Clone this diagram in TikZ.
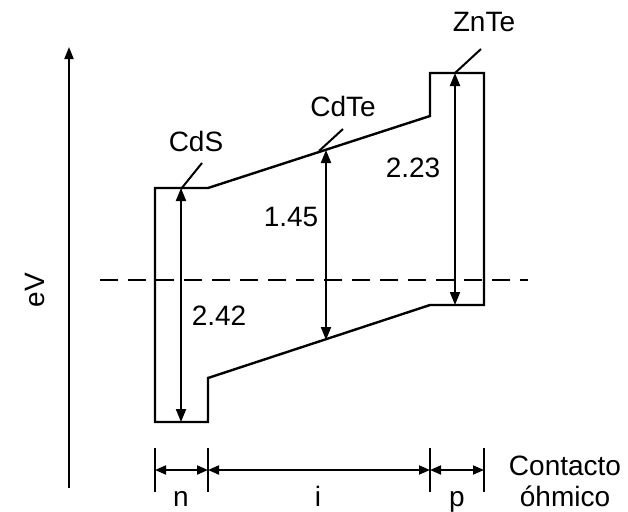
\documentclass[tikz,border=0pt]{standalone}
\usepackage{fontspec}
\setmainfont{Liberation Sans}
\usetikzlibrary{arrows.meta}
\begin{document}
\begin{tikzpicture}[x=1pt,y=-1pt,
  band/.style={line width=2.4pt, line join=miter},
  gap/.style={line width=2pt, {Triangle[length=13pt,width=10pt]}-{Triangle[length=13pt,width=10pt]}},
  dim/.style={line width=1.8pt, {Triangle[length=11pt,width=9pt]}-{Triangle[length=11pt,width=9pt]}},
  tick/.style={line width=2pt},
  lbl/.style={font=\fontsize{28}{32}\selectfont, inner sep=0pt},
  lead/.style={line width=2pt}]
\useasboundingbox (0,0) rectangle (628,511);
% axis
\coordinate (axB) at (69,488);
\coordinate (axT) at (69,47);
\draw[line width=2pt, -{Triangle[length=12pt,width=9pt]}] (axB) -- (axT);
\node[lbl, rotate=90] (ev) at (35,290) {eV};
% dashed Fermi level
\coordinate (dL) at (100,280);
\coordinate (dR) at (528,280);
\draw[line width=2pt, dash pattern=on 18pt off 10pt] (dL) -- (dR);
% band outline
\coordinate (c1) at (155,188);
\coordinate (c2) at (208,188);
\coordinate (c3) at (430,116);
\coordinate (c4) at (430,73);
\coordinate (c5) at (484,73);
\coordinate (c6) at (484,305);
\coordinate (c7) at (430,305);
\coordinate (c8) at (208,378);
\coordinate (c9) at (208,422);
\coordinate (c10) at (155,422);
\draw[band] (c1) -- (c2) -- (c3) -- (c4) -- (c5) -- (c6) -- (c7) -- (c8) -- (c9) -- (c10) -- cycle;
% gaps
\coordinate (g1t) at (181,188);
\coordinate (g1b) at (181,422);
\draw[gap] (g1t) -- (g1b);
\coordinate (g2t) at (326,150);
\coordinate (g2b) at (326,340);
\draw[gap] (g2t) -- (g2b);
\coordinate (g3t) at (455,73);
\coordinate (g3b) at (455,305);
\draw[gap] (g3t) -- (g3b);
% material labels with leaders
\node[lbl] (cds) at (196,141) {CdS};
\coordinate (l1a) at (181,189);
\coordinate (l1b) at (202,163);
\draw[lead] (l1a) -- (l1b);
\node[lbl] (cdte) at (343,106) {CdTe};
\coordinate (l2a) at (319,151);
\coordinate (l2b) at (343,129);
\draw[lead] (l2a) -- (l2b);
\node[lbl] (znte) at (484,22) {ZnTe};
\coordinate (l3a) at (455,73);
\coordinate (l3b) at (481,49);
\draw[lead] (l3a) -- (l3b);
% gap values
\node[lbl] (v1) at (219,316) {2.42};
\node[lbl] (v2) at (291,217) {1.45};
\node[lbl] (v3) at (413,168) {2.23};
% dimension marks
\foreach \n/\x in {t1/155,t2/208,t3/430,t4/484}{
  \coordinate (\n a) at (\x,448);
  \coordinate (\n b) at (\x,492);
  \coordinate (\n m) at (\x,470);
  \draw[tick] (\n a) -- (\n b);
}
\draw[dim] (t1m) -- (t2m);
\draw[dim] (t2m) -- (t3m);
\draw[dim] (t3m) -- (t4m);
\node[lbl, anchor=base] (n) at (181,506) {n};
\node[lbl, anchor=base] (i) at (318,506) {i};
\node[lbl, anchor=base] (p) at (457,506) {p};
\node[lbl, align=center, font=\fontsize{28}{31}\selectfont] (oh) at (565,481) {Contacto\\óhmico};
\end{tikzpicture}
\end{document}
